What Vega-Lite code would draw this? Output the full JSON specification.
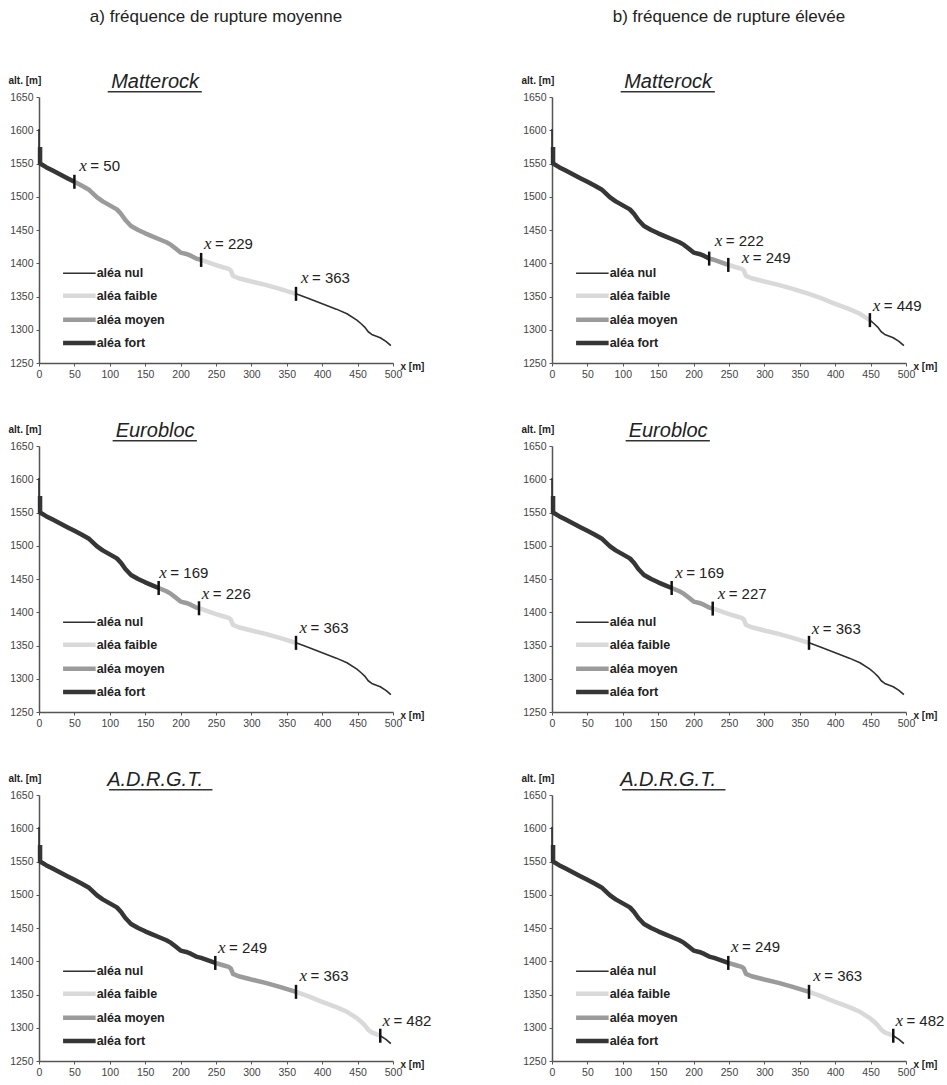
{
"$schema": "https://vega.github.io/schema/vega-lite/v6.json",
"padding": {"left": 8, "top": 8, "right": 2, "bottom": 5},
"background": "white",
"config": {"view": {"stroke": null}, "font": "Liberation Sans",
 "axisX": {"grid": false, "domainColor": "#555", "domainWidth": 1.5, "tickColor": "#555", "tickSize": 3, "format": "d", "labelOverlap": false, "labelFontSize": 10.5, "labelColor": "#444", "labelPadding": 3, "titleFontSize": 10, "titleFontWeight": "bold", "titleColor": "#222", "titleX": 361, "titleY": 3, "titleAlign": "left", "titleBaseline": "middle", "labelFlush": false},
 "axisY": {"grid": false, "domainColor": "#555", "domainWidth": 1.5, "tickColor": "#555", "tickSize": 3, "format": "d", "labelOverlap": false, "labelFontSize": 10.5, "labelColor": "#444", "labelPadding": 3, "titleFontSize": 10, "titleFontWeight": "bold", "titleColor": "#222", "titleAngle": 0, "titleX": -31, "titleY": -17, "titleAlign": "left", "titleBaseline": "middle"},
 "title": {"font": "Liberation Sans", "fontSize": 17, "fontWeight": "normal", "color": "#222", "anchor": "middle", "frame": "group", "offset": 46}
},
"datasets": {"all": [
{"k":"l","f":"a","m":"M","c":"nul0","x":0,"y":1602},{"k":"l","f":"a","m":"M","c":"nul0","x":0,"y":1550},
{"k":"l","f":"a","m":"M","c":"fort","x":1.5,"y":1575},{"k":"l","f":"a","m":"M","c":"fort","x":1.5,"y":1550},{"k":"l","f":"a","m":"M","c":"fort","x":10,"y":1544.5},{"k":"l","f":"a","m":"M","c":"fort","x":20,"y":1539},{"k":"l","f":"a","m":"M","c":"fort","x":30,"y":1533.5},{"k":"l","f":"a","m":"M","c":"fort","x":40,"y":1528},{"k":"l","f":"a","m":"M","c":"fort","x":50,"y":1522.5},
{"k":"l","f":"a","m":"M","c":"moyen","x":50,"y":1522.5},{"k":"l","f":"a","m":"M","c":"moyen","x":60,"y":1517},{"k":"l","f":"a","m":"M","c":"moyen","x":70,"y":1511},{"k":"l","f":"a","m":"M","c":"moyen","x":76,"y":1505},{"k":"l","f":"a","m":"M","c":"moyen","x":82,"y":1499},{"k":"l","f":"a","m":"M","c":"moyen","x":90,"y":1493},{"k":"l","f":"a","m":"M","c":"moyen","x":100,"y":1487},{"k":"l","f":"a","m":"M","c":"moyen","x":110,"y":1481},{"k":"l","f":"a","m":"M","c":"moyen","x":116,"y":1474},{"k":"l","f":"a","m":"M","c":"moyen","x":122,"y":1465},{"k":"l","f":"a","m":"M","c":"moyen","x":130,"y":1456},{"k":"l","f":"a","m":"M","c":"moyen","x":140,"y":1450},{"k":"l","f":"a","m":"M","c":"moyen","x":150,"y":1445},{"k":"l","f":"a","m":"M","c":"moyen","x":160,"y":1440.5},{"k":"l","f":"a","m":"M","c":"moyen","x":169,"y":1436.5},{"k":"l","f":"a","m":"M","c":"moyen","x":180,"y":1431.5},{"k":"l","f":"a","m":"M","c":"moyen","x":186,"y":1428},{"k":"l","f":"a","m":"M","c":"moyen","x":193,"y":1422},{"k":"l","f":"a","m":"M","c":"moyen","x":200,"y":1416},{"k":"l","f":"a","m":"M","c":"moyen","x":208,"y":1414},{"k":"l","f":"a","m":"M","c":"moyen","x":215,"y":1411},{"k":"l","f":"a","m":"M","c":"moyen","x":222,"y":1407},{"k":"l","f":"a","m":"M","c":"moyen","x":226,"y":1406},{"k":"l","f":"a","m":"M","c":"moyen","x":229,"y":1405},
{"k":"l","f":"a","m":"M","c":"faible","x":229,"y":1405},{"k":"l","f":"a","m":"M","c":"faible","x":240,"y":1401},{"k":"l","f":"a","m":"M","c":"faible","x":249,"y":1397.5},{"k":"l","f":"a","m":"M","c":"faible","x":260,"y":1394},{"k":"l","f":"a","m":"M","c":"faible","x":268,"y":1391.5},{"k":"l","f":"a","m":"M","c":"faible","x":271,"y":1389},{"k":"l","f":"a","m":"M","c":"faible","x":274,"y":1381},{"k":"l","f":"a","m":"M","c":"faible","x":282,"y":1377.5},{"k":"l","f":"a","m":"M","c":"faible","x":300,"y":1372.5},{"k":"l","f":"a","m":"M","c":"faible","x":320,"y":1367.5},{"k":"l","f":"a","m":"M","c":"faible","x":340,"y":1361.5},{"k":"l","f":"a","m":"M","c":"faible","x":363,"y":1354},
{"k":"l","f":"a","m":"M","c":"nul","x":363,"y":1354},{"k":"l","f":"a","m":"M","c":"nul","x":380,"y":1347.5},{"k":"l","f":"a","m":"M","c":"nul","x":400,"y":1339},{"k":"l","f":"a","m":"M","c":"nul","x":420,"y":1331},{"k":"l","f":"a","m":"M","c":"nul","x":435,"y":1324},{"k":"l","f":"a","m":"M","c":"nul","x":449,"y":1314.5},{"k":"l","f":"a","m":"M","c":"nul","x":455,"y":1309},{"k":"l","f":"a","m":"M","c":"nul","x":460,"y":1304},{"k":"l","f":"a","m":"M","c":"nul","x":465,"y":1297},{"k":"l","f":"a","m":"M","c":"nul","x":470,"y":1293},{"k":"l","f":"a","m":"M","c":"nul","x":482,"y":1288},{"k":"l","f":"a","m":"M","c":"nul","x":490,"y":1282.5},{"k":"l","f":"a","m":"M","c":"nul","x":497,"y":1276},

{"k":"l","f":"b","m":"M","c":"nul0","x":0,"y":1602},{"k":"l","f":"b","m":"M","c":"nul0","x":0,"y":1550},
{"k":"l","f":"b","m":"M","c":"fort","x":1.5,"y":1575},{"k":"l","f":"b","m":"M","c":"fort","x":1.5,"y":1550},{"k":"l","f":"b","m":"M","c":"fort","x":10,"y":1544.5},{"k":"l","f":"b","m":"M","c":"fort","x":20,"y":1539},{"k":"l","f":"b","m":"M","c":"fort","x":30,"y":1533.5},{"k":"l","f":"b","m":"M","c":"fort","x":40,"y":1528},{"k":"l","f":"b","m":"M","c":"fort","x":50,"y":1522.5},{"k":"l","f":"b","m":"M","c":"fort","x":60,"y":1517},{"k":"l","f":"b","m":"M","c":"fort","x":70,"y":1511},{"k":"l","f":"b","m":"M","c":"fort","x":76,"y":1505},{"k":"l","f":"b","m":"M","c":"fort","x":82,"y":1499},{"k":"l","f":"b","m":"M","c":"fort","x":90,"y":1493},{"k":"l","f":"b","m":"M","c":"fort","x":100,"y":1487},{"k":"l","f":"b","m":"M","c":"fort","x":110,"y":1481},{"k":"l","f":"b","m":"M","c":"fort","x":116,"y":1474},{"k":"l","f":"b","m":"M","c":"fort","x":122,"y":1465},{"k":"l","f":"b","m":"M","c":"fort","x":130,"y":1456},{"k":"l","f":"b","m":"M","c":"fort","x":140,"y":1450},{"k":"l","f":"b","m":"M","c":"fort","x":150,"y":1445},{"k":"l","f":"b","m":"M","c":"fort","x":160,"y":1440.5},{"k":"l","f":"b","m":"M","c":"fort","x":169,"y":1436.5},{"k":"l","f":"b","m":"M","c":"fort","x":180,"y":1431.5},{"k":"l","f":"b","m":"M","c":"fort","x":186,"y":1428},{"k":"l","f":"b","m":"M","c":"fort","x":193,"y":1422},{"k":"l","f":"b","m":"M","c":"fort","x":200,"y":1416},{"k":"l","f":"b","m":"M","c":"fort","x":208,"y":1414},{"k":"l","f":"b","m":"M","c":"fort","x":215,"y":1411},{"k":"l","f":"b","m":"M","c":"fort","x":222,"y":1407},
{"k":"l","f":"b","m":"M","c":"moyen","x":222,"y":1407},{"k":"l","f":"b","m":"M","c":"moyen","x":226,"y":1406},{"k":"l","f":"b","m":"M","c":"moyen","x":229,"y":1405},{"k":"l","f":"b","m":"M","c":"moyen","x":240,"y":1401},{"k":"l","f":"b","m":"M","c":"moyen","x":249,"y":1397.5},
{"k":"l","f":"b","m":"M","c":"faible","x":249,"y":1397.5},{"k":"l","f":"b","m":"M","c":"faible","x":260,"y":1394},{"k":"l","f":"b","m":"M","c":"faible","x":268,"y":1391.5},{"k":"l","f":"b","m":"M","c":"faible","x":271,"y":1389},{"k":"l","f":"b","m":"M","c":"faible","x":274,"y":1381},{"k":"l","f":"b","m":"M","c":"faible","x":282,"y":1377.5},{"k":"l","f":"b","m":"M","c":"faible","x":300,"y":1372.5},{"k":"l","f":"b","m":"M","c":"faible","x":320,"y":1367.5},{"k":"l","f":"b","m":"M","c":"faible","x":340,"y":1361.5},{"k":"l","f":"b","m":"M","c":"faible","x":363,"y":1354},{"k":"l","f":"b","m":"M","c":"faible","x":380,"y":1347.5},{"k":"l","f":"b","m":"M","c":"faible","x":400,"y":1339},{"k":"l","f":"b","m":"M","c":"faible","x":420,"y":1331},{"k":"l","f":"b","m":"M","c":"faible","x":435,"y":1324},{"k":"l","f":"b","m":"M","c":"faible","x":449,"y":1314.5},
{"k":"l","f":"b","m":"M","c":"nul","x":449,"y":1314.5},{"k":"l","f":"b","m":"M","c":"nul","x":455,"y":1309},{"k":"l","f":"b","m":"M","c":"nul","x":460,"y":1304},{"k":"l","f":"b","m":"M","c":"nul","x":465,"y":1297},{"k":"l","f":"b","m":"M","c":"nul","x":470,"y":1293},{"k":"l","f":"b","m":"M","c":"nul","x":482,"y":1288},{"k":"l","f":"b","m":"M","c":"nul","x":490,"y":1282.5},{"k":"l","f":"b","m":"M","c":"nul","x":497,"y":1276},

{"k":"l","f":"a","m":"E","c":"nul0","x":0,"y":1602},{"k":"l","f":"a","m":"E","c":"nul0","x":0,"y":1550},
{"k":"l","f":"a","m":"E","c":"fort","x":1.5,"y":1575},{"k":"l","f":"a","m":"E","c":"fort","x":1.5,"y":1550},{"k":"l","f":"a","m":"E","c":"fort","x":10,"y":1544.5},{"k":"l","f":"a","m":"E","c":"fort","x":20,"y":1539},{"k":"l","f":"a","m":"E","c":"fort","x":30,"y":1533.5},{"k":"l","f":"a","m":"E","c":"fort","x":40,"y":1528},{"k":"l","f":"a","m":"E","c":"fort","x":50,"y":1522.5},{"k":"l","f":"a","m":"E","c":"fort","x":60,"y":1517},{"k":"l","f":"a","m":"E","c":"fort","x":70,"y":1511},{"k":"l","f":"a","m":"E","c":"fort","x":76,"y":1505},{"k":"l","f":"a","m":"E","c":"fort","x":82,"y":1499},{"k":"l","f":"a","m":"E","c":"fort","x":90,"y":1493},{"k":"l","f":"a","m":"E","c":"fort","x":100,"y":1487},{"k":"l","f":"a","m":"E","c":"fort","x":110,"y":1481},{"k":"l","f":"a","m":"E","c":"fort","x":116,"y":1474},{"k":"l","f":"a","m":"E","c":"fort","x":122,"y":1465},{"k":"l","f":"a","m":"E","c":"fort","x":130,"y":1456},{"k":"l","f":"a","m":"E","c":"fort","x":140,"y":1450},{"k":"l","f":"a","m":"E","c":"fort","x":150,"y":1445},{"k":"l","f":"a","m":"E","c":"fort","x":160,"y":1440.5},{"k":"l","f":"a","m":"E","c":"fort","x":169,"y":1436.5},
{"k":"l","f":"a","m":"E","c":"moyen","x":169,"y":1436.5},{"k":"l","f":"a","m":"E","c":"moyen","x":180,"y":1431.5},{"k":"l","f":"a","m":"E","c":"moyen","x":186,"y":1428},{"k":"l","f":"a","m":"E","c":"moyen","x":193,"y":1422},{"k":"l","f":"a","m":"E","c":"moyen","x":200,"y":1416},{"k":"l","f":"a","m":"E","c":"moyen","x":208,"y":1414},{"k":"l","f":"a","m":"E","c":"moyen","x":215,"y":1411},{"k":"l","f":"a","m":"E","c":"moyen","x":222,"y":1407},{"k":"l","f":"a","m":"E","c":"moyen","x":226,"y":1406},
{"k":"l","f":"a","m":"E","c":"faible","x":226,"y":1406},{"k":"l","f":"a","m":"E","c":"faible","x":229,"y":1405},{"k":"l","f":"a","m":"E","c":"faible","x":240,"y":1401},{"k":"l","f":"a","m":"E","c":"faible","x":249,"y":1397.5},{"k":"l","f":"a","m":"E","c":"faible","x":260,"y":1394},{"k":"l","f":"a","m":"E","c":"faible","x":268,"y":1391.5},{"k":"l","f":"a","m":"E","c":"faible","x":271,"y":1389},{"k":"l","f":"a","m":"E","c":"faible","x":274,"y":1381},{"k":"l","f":"a","m":"E","c":"faible","x":282,"y":1377.5},{"k":"l","f":"a","m":"E","c":"faible","x":300,"y":1372.5},{"k":"l","f":"a","m":"E","c":"faible","x":320,"y":1367.5},{"k":"l","f":"a","m":"E","c":"faible","x":340,"y":1361.5},{"k":"l","f":"a","m":"E","c":"faible","x":363,"y":1354},
{"k":"l","f":"a","m":"E","c":"nul","x":363,"y":1354},{"k":"l","f":"a","m":"E","c":"nul","x":380,"y":1347.5},{"k":"l","f":"a","m":"E","c":"nul","x":400,"y":1339},{"k":"l","f":"a","m":"E","c":"nul","x":420,"y":1331},{"k":"l","f":"a","m":"E","c":"nul","x":435,"y":1324},{"k":"l","f":"a","m":"E","c":"nul","x":449,"y":1314.5},{"k":"l","f":"a","m":"E","c":"nul","x":455,"y":1309},{"k":"l","f":"a","m":"E","c":"nul","x":460,"y":1304},{"k":"l","f":"a","m":"E","c":"nul","x":465,"y":1297},{"k":"l","f":"a","m":"E","c":"nul","x":470,"y":1293},{"k":"l","f":"a","m":"E","c":"nul","x":482,"y":1288},{"k":"l","f":"a","m":"E","c":"nul","x":490,"y":1282.5},{"k":"l","f":"a","m":"E","c":"nul","x":497,"y":1276},

{"k":"l","f":"b","m":"E","c":"nul0","x":0,"y":1602},{"k":"l","f":"b","m":"E","c":"nul0","x":0,"y":1550},
{"k":"l","f":"b","m":"E","c":"fort","x":1.5,"y":1575},{"k":"l","f":"b","m":"E","c":"fort","x":1.5,"y":1550},{"k":"l","f":"b","m":"E","c":"fort","x":10,"y":1544.5},{"k":"l","f":"b","m":"E","c":"fort","x":20,"y":1539},{"k":"l","f":"b","m":"E","c":"fort","x":30,"y":1533.5},{"k":"l","f":"b","m":"E","c":"fort","x":40,"y":1528},{"k":"l","f":"b","m":"E","c":"fort","x":50,"y":1522.5},{"k":"l","f":"b","m":"E","c":"fort","x":60,"y":1517},{"k":"l","f":"b","m":"E","c":"fort","x":70,"y":1511},{"k":"l","f":"b","m":"E","c":"fort","x":76,"y":1505},{"k":"l","f":"b","m":"E","c":"fort","x":82,"y":1499},{"k":"l","f":"b","m":"E","c":"fort","x":90,"y":1493},{"k":"l","f":"b","m":"E","c":"fort","x":100,"y":1487},{"k":"l","f":"b","m":"E","c":"fort","x":110,"y":1481},{"k":"l","f":"b","m":"E","c":"fort","x":116,"y":1474},{"k":"l","f":"b","m":"E","c":"fort","x":122,"y":1465},{"k":"l","f":"b","m":"E","c":"fort","x":130,"y":1456},{"k":"l","f":"b","m":"E","c":"fort","x":140,"y":1450},{"k":"l","f":"b","m":"E","c":"fort","x":150,"y":1445},{"k":"l","f":"b","m":"E","c":"fort","x":160,"y":1440.5},{"k":"l","f":"b","m":"E","c":"fort","x":169,"y":1436.5},
{"k":"l","f":"b","m":"E","c":"moyen","x":169,"y":1436.5},{"k":"l","f":"b","m":"E","c":"moyen","x":180,"y":1431.5},{"k":"l","f":"b","m":"E","c":"moyen","x":186,"y":1428},{"k":"l","f":"b","m":"E","c":"moyen","x":193,"y":1422},{"k":"l","f":"b","m":"E","c":"moyen","x":200,"y":1416},{"k":"l","f":"b","m":"E","c":"moyen","x":208,"y":1414},{"k":"l","f":"b","m":"E","c":"moyen","x":215,"y":1411},{"k":"l","f":"b","m":"E","c":"moyen","x":222,"y":1407},{"k":"l","f":"b","m":"E","c":"moyen","x":226,"y":1406},{"k":"l","f":"b","m":"E","c":"moyen","x":227,"y":1405.5},
{"k":"l","f":"b","m":"E","c":"faible","x":227,"y":1405.5},{"k":"l","f":"b","m":"E","c":"faible","x":229,"y":1405},{"k":"l","f":"b","m":"E","c":"faible","x":240,"y":1401},{"k":"l","f":"b","m":"E","c":"faible","x":249,"y":1397.5},{"k":"l","f":"b","m":"E","c":"faible","x":260,"y":1394},{"k":"l","f":"b","m":"E","c":"faible","x":268,"y":1391.5},{"k":"l","f":"b","m":"E","c":"faible","x":271,"y":1389},{"k":"l","f":"b","m":"E","c":"faible","x":274,"y":1381},{"k":"l","f":"b","m":"E","c":"faible","x":282,"y":1377.5},{"k":"l","f":"b","m":"E","c":"faible","x":300,"y":1372.5},{"k":"l","f":"b","m":"E","c":"faible","x":320,"y":1367.5},{"k":"l","f":"b","m":"E","c":"faible","x":340,"y":1361.5},{"k":"l","f":"b","m":"E","c":"faible","x":363,"y":1354},
{"k":"l","f":"b","m":"E","c":"nul","x":363,"y":1354},{"k":"l","f":"b","m":"E","c":"nul","x":380,"y":1347.5},{"k":"l","f":"b","m":"E","c":"nul","x":400,"y":1339},{"k":"l","f":"b","m":"E","c":"nul","x":420,"y":1331},{"k":"l","f":"b","m":"E","c":"nul","x":435,"y":1324},{"k":"l","f":"b","m":"E","c":"nul","x":449,"y":1314.5},{"k":"l","f":"b","m":"E","c":"nul","x":455,"y":1309},{"k":"l","f":"b","m":"E","c":"nul","x":460,"y":1304},{"k":"l","f":"b","m":"E","c":"nul","x":465,"y":1297},{"k":"l","f":"b","m":"E","c":"nul","x":470,"y":1293},{"k":"l","f":"b","m":"E","c":"nul","x":482,"y":1288},{"k":"l","f":"b","m":"E","c":"nul","x":490,"y":1282.5},{"k":"l","f":"b","m":"E","c":"nul","x":497,"y":1276},

{"k":"l","f":"a","m":"A","c":"nul0","x":0,"y":1602},{"k":"l","f":"a","m":"A","c":"nul0","x":0,"y":1550},
{"k":"l","f":"a","m":"A","c":"fort","x":1.5,"y":1575},{"k":"l","f":"a","m":"A","c":"fort","x":1.5,"y":1550},{"k":"l","f":"a","m":"A","c":"fort","x":10,"y":1544.5},{"k":"l","f":"a","m":"A","c":"fort","x":20,"y":1539},{"k":"l","f":"a","m":"A","c":"fort","x":30,"y":1533.5},{"k":"l","f":"a","m":"A","c":"fort","x":40,"y":1528},{"k":"l","f":"a","m":"A","c":"fort","x":50,"y":1522.5},{"k":"l","f":"a","m":"A","c":"fort","x":60,"y":1517},{"k":"l","f":"a","m":"A","c":"fort","x":70,"y":1511},{"k":"l","f":"a","m":"A","c":"fort","x":76,"y":1505},{"k":"l","f":"a","m":"A","c":"fort","x":82,"y":1499},{"k":"l","f":"a","m":"A","c":"fort","x":90,"y":1493},{"k":"l","f":"a","m":"A","c":"fort","x":100,"y":1487},{"k":"l","f":"a","m":"A","c":"fort","x":110,"y":1481},{"k":"l","f":"a","m":"A","c":"fort","x":116,"y":1474},{"k":"l","f":"a","m":"A","c":"fort","x":122,"y":1465},{"k":"l","f":"a","m":"A","c":"fort","x":130,"y":1456},{"k":"l","f":"a","m":"A","c":"fort","x":140,"y":1450},{"k":"l","f":"a","m":"A","c":"fort","x":150,"y":1445},{"k":"l","f":"a","m":"A","c":"fort","x":160,"y":1440.5},{"k":"l","f":"a","m":"A","c":"fort","x":169,"y":1436.5},{"k":"l","f":"a","m":"A","c":"fort","x":180,"y":1431.5},{"k":"l","f":"a","m":"A","c":"fort","x":186,"y":1428},{"k":"l","f":"a","m":"A","c":"fort","x":193,"y":1422},{"k":"l","f":"a","m":"A","c":"fort","x":200,"y":1416},{"k":"l","f":"a","m":"A","c":"fort","x":208,"y":1414},{"k":"l","f":"a","m":"A","c":"fort","x":215,"y":1411},{"k":"l","f":"a","m":"A","c":"fort","x":222,"y":1407},{"k":"l","f":"a","m":"A","c":"fort","x":229,"y":1405},{"k":"l","f":"a","m":"A","c":"fort","x":240,"y":1401},{"k":"l","f":"a","m":"A","c":"fort","x":249,"y":1397.5},
{"k":"l","f":"a","m":"A","c":"moyen","x":249,"y":1397.5},{"k":"l","f":"a","m":"A","c":"moyen","x":260,"y":1394},{"k":"l","f":"a","m":"A","c":"moyen","x":268,"y":1391.5},{"k":"l","f":"a","m":"A","c":"moyen","x":271,"y":1389},{"k":"l","f":"a","m":"A","c":"moyen","x":274,"y":1381},{"k":"l","f":"a","m":"A","c":"moyen","x":282,"y":1377.5},{"k":"l","f":"a","m":"A","c":"moyen","x":300,"y":1372.5},{"k":"l","f":"a","m":"A","c":"moyen","x":320,"y":1367.5},{"k":"l","f":"a","m":"A","c":"moyen","x":340,"y":1361.5},{"k":"l","f":"a","m":"A","c":"moyen","x":363,"y":1354},
{"k":"l","f":"a","m":"A","c":"faible","x":363,"y":1354},{"k":"l","f":"a","m":"A","c":"faible","x":380,"y":1347.5},{"k":"l","f":"a","m":"A","c":"faible","x":400,"y":1339},{"k":"l","f":"a","m":"A","c":"faible","x":420,"y":1331},{"k":"l","f":"a","m":"A","c":"faible","x":435,"y":1324},{"k":"l","f":"a","m":"A","c":"faible","x":449,"y":1314.5},{"k":"l","f":"a","m":"A","c":"faible","x":455,"y":1309},{"k":"l","f":"a","m":"A","c":"faible","x":460,"y":1304},{"k":"l","f":"a","m":"A","c":"faible","x":465,"y":1297},{"k":"l","f":"a","m":"A","c":"faible","x":470,"y":1293},{"k":"l","f":"a","m":"A","c":"faible","x":482,"y":1288},
{"k":"l","f":"a","m":"A","c":"nul","x":482,"y":1288},{"k":"l","f":"a","m":"A","c":"nul","x":490,"y":1282.5},{"k":"l","f":"a","m":"A","c":"nul","x":497,"y":1276},

{"k":"l","f":"b","m":"A","c":"nul0","x":0,"y":1602},{"k":"l","f":"b","m":"A","c":"nul0","x":0,"y":1550},
{"k":"l","f":"b","m":"A","c":"fort","x":1.5,"y":1575},{"k":"l","f":"b","m":"A","c":"fort","x":1.5,"y":1550},{"k":"l","f":"b","m":"A","c":"fort","x":10,"y":1544.5},{"k":"l","f":"b","m":"A","c":"fort","x":20,"y":1539},{"k":"l","f":"b","m":"A","c":"fort","x":30,"y":1533.5},{"k":"l","f":"b","m":"A","c":"fort","x":40,"y":1528},{"k":"l","f":"b","m":"A","c":"fort","x":50,"y":1522.5},{"k":"l","f":"b","m":"A","c":"fort","x":60,"y":1517},{"k":"l","f":"b","m":"A","c":"fort","x":70,"y":1511},{"k":"l","f":"b","m":"A","c":"fort","x":76,"y":1505},{"k":"l","f":"b","m":"A","c":"fort","x":82,"y":1499},{"k":"l","f":"b","m":"A","c":"fort","x":90,"y":1493},{"k":"l","f":"b","m":"A","c":"fort","x":100,"y":1487},{"k":"l","f":"b","m":"A","c":"fort","x":110,"y":1481},{"k":"l","f":"b","m":"A","c":"fort","x":116,"y":1474},{"k":"l","f":"b","m":"A","c":"fort","x":122,"y":1465},{"k":"l","f":"b","m":"A","c":"fort","x":130,"y":1456},{"k":"l","f":"b","m":"A","c":"fort","x":140,"y":1450},{"k":"l","f":"b","m":"A","c":"fort","x":150,"y":1445},{"k":"l","f":"b","m":"A","c":"fort","x":160,"y":1440.5},{"k":"l","f":"b","m":"A","c":"fort","x":169,"y":1436.5},{"k":"l","f":"b","m":"A","c":"fort","x":180,"y":1431.5},{"k":"l","f":"b","m":"A","c":"fort","x":186,"y":1428},{"k":"l","f":"b","m":"A","c":"fort","x":193,"y":1422},{"k":"l","f":"b","m":"A","c":"fort","x":200,"y":1416},{"k":"l","f":"b","m":"A","c":"fort","x":208,"y":1414},{"k":"l","f":"b","m":"A","c":"fort","x":215,"y":1411},{"k":"l","f":"b","m":"A","c":"fort","x":222,"y":1407},{"k":"l","f":"b","m":"A","c":"fort","x":229,"y":1405},{"k":"l","f":"b","m":"A","c":"fort","x":240,"y":1401},{"k":"l","f":"b","m":"A","c":"fort","x":249,"y":1397.5},
{"k":"l","f":"b","m":"A","c":"moyen","x":249,"y":1397.5},{"k":"l","f":"b","m":"A","c":"moyen","x":260,"y":1394},{"k":"l","f":"b","m":"A","c":"moyen","x":268,"y":1391.5},{"k":"l","f":"b","m":"A","c":"moyen","x":271,"y":1389},{"k":"l","f":"b","m":"A","c":"moyen","x":274,"y":1381},{"k":"l","f":"b","m":"A","c":"moyen","x":282,"y":1377.5},{"k":"l","f":"b","m":"A","c":"moyen","x":300,"y":1372.5},{"k":"l","f":"b","m":"A","c":"moyen","x":320,"y":1367.5},{"k":"l","f":"b","m":"A","c":"moyen","x":340,"y":1361.5},{"k":"l","f":"b","m":"A","c":"moyen","x":363,"y":1354},
{"k":"l","f":"b","m":"A","c":"faible","x":363,"y":1354},{"k":"l","f":"b","m":"A","c":"faible","x":380,"y":1347.5},{"k":"l","f":"b","m":"A","c":"faible","x":400,"y":1339},{"k":"l","f":"b","m":"A","c":"faible","x":420,"y":1331},{"k":"l","f":"b","m":"A","c":"faible","x":435,"y":1324},{"k":"l","f":"b","m":"A","c":"faible","x":449,"y":1314.5},{"k":"l","f":"b","m":"A","c":"faible","x":455,"y":1309},{"k":"l","f":"b","m":"A","c":"faible","x":460,"y":1304},{"k":"l","f":"b","m":"A","c":"faible","x":465,"y":1297},{"k":"l","f":"b","m":"A","c":"faible","x":470,"y":1293},{"k":"l","f":"b","m":"A","c":"faible","x":482,"y":1288},
{"k":"l","f":"b","m":"A","c":"nul","x":482,"y":1288},{"k":"l","f":"b","m":"A","c":"nul","x":490,"y":1282.5},{"k":"l","f":"b","m":"A","c":"nul","x":497,"y":1276},

{"k":"t","f":"a","m":"M","x":50,"y":1522.5,"lx":57,"ly":1538,"t":"= 50"},
{"k":"t","f":"a","m":"M","x":229,"y":1405,"lx":233,"ly":1422,"t":"= 229"},
{"k":"t","f":"a","m":"M","x":363,"y":1354,"lx":370,"ly":1370,"t":"= 363"},
{"k":"t","f":"b","m":"M","x":222,"y":1407,"lx":230,"ly":1426,"t":"= 222"},
{"k":"t","f":"b","m":"M","x":249,"y":1397.5,"lx":268,"ly":1401,"t":"= 249"},
{"k":"t","f":"b","m":"M","x":449,"y":1314.5,"lx":453,"ly":1328,"t":"= 449"},
{"k":"t","f":"a","m":"E","x":169,"y":1436.5,"lx":170,"ly":1451,"t":"= 169"},
{"k":"t","f":"a","m":"E","x":226,"y":1406,"lx":230,"ly":1420,"t":"= 226"},
{"k":"t","f":"a","m":"E","x":363,"y":1354,"lx":368,"ly":1369,"t":"= 363"},
{"k":"t","f":"b","m":"E","x":169,"y":1436.5,"lx":174,"ly":1451,"t":"= 169"},
{"k":"t","f":"b","m":"E","x":227,"y":1405.5,"lx":234,"ly":1420,"t":"= 227"},
{"k":"t","f":"b","m":"E","x":363,"y":1354,"lx":367,"ly":1368,"t":"= 363"},
{"k":"t","f":"a","m":"A","x":249,"y":1397.5,"lx":253,"ly":1413,"t":"= 249"},
{"k":"t","f":"a","m":"A","x":363,"y":1354,"lx":368,"ly":1370,"t":"= 363"},
{"k":"t","f":"a","m":"A","x":482,"y":1288,"lx":485,"ly":1303,"t":"= 482"},
{"k":"t","f":"b","m":"A","x":249,"y":1397.5,"lx":253,"ly":1414,"t":"= 249"},
{"k":"t","f":"b","m":"A","x":363,"y":1354,"lx":369,"ly":1371,"t":"= 363"},
{"k":"t","f":"b","m":"A","x":482,"y":1288,"lx":485,"ly":1303,"t":"= 482"},

{"k":"g","f":"a","m":"M","c":"nul","y":1385,"t":"aléa nul"},{"k":"g","f":"a","m":"M","c":"faible","y":1351,"t":"aléa faible"},{"k":"g","f":"a","m":"M","c":"moyen","y":1315,"t":"aléa moyen"},{"k":"g","f":"a","m":"M","c":"fort","y":1280,"t":"aléa fort"},
{"k":"g","f":"b","m":"M","c":"nul","y":1385,"t":"aléa nul"},{"k":"g","f":"b","m":"M","c":"faible","y":1351,"t":"aléa faible"},{"k":"g","f":"b","m":"M","c":"moyen","y":1315,"t":"aléa moyen"},{"k":"g","f":"b","m":"M","c":"fort","y":1280,"t":"aléa fort"},
{"k":"g","f":"a","m":"E","c":"nul","y":1385,"t":"aléa nul"},{"k":"g","f":"a","m":"E","c":"faible","y":1351,"t":"aléa faible"},{"k":"g","f":"a","m":"E","c":"moyen","y":1315,"t":"aléa moyen"},{"k":"g","f":"a","m":"E","c":"fort","y":1280,"t":"aléa fort"},
{"k":"g","f":"b","m":"E","c":"nul","y":1385,"t":"aléa nul"},{"k":"g","f":"b","m":"E","c":"faible","y":1351,"t":"aléa faible"},{"k":"g","f":"b","m":"E","c":"moyen","y":1315,"t":"aléa moyen"},{"k":"g","f":"b","m":"E","c":"fort","y":1280,"t":"aléa fort"},
{"k":"g","f":"a","m":"A","c":"nul","y":1385,"t":"aléa nul"},{"k":"g","f":"a","m":"A","c":"faible","y":1351,"t":"aléa faible"},{"k":"g","f":"a","m":"A","c":"moyen","y":1315,"t":"aléa moyen"},{"k":"g","f":"a","m":"A","c":"fort","y":1280,"t":"aléa fort"},
{"k":"g","f":"b","m":"A","c":"nul","y":1385,"t":"aléa nul"},{"k":"g","f":"b","m":"A","c":"faible","y":1351,"t":"aléa faible"},{"k":"g","f":"b","m":"A","c":"moyen","y":1315,"t":"aléa moyen"},{"k":"g","f":"b","m":"A","c":"fort","y":1280,"t":"aléa fort"},

{"k":"h","f":"a","m":"M","t":"Matterock","u1":97,"u2":230},
{"k":"h","f":"b","m":"M","t":"Matterock","u1":97,"u2":230},
{"k":"h","f":"a","m":"E","t":"Eurobloc","u1":104,"u2":223},
{"k":"h","f":"b","m":"E","t":"Eurobloc","u1":104,"u2":223},
{"k":"h","f":"a","m":"A","t":"A.D.R.G.T.","u1":99,"u2":245},
{"k":"h","f":"b","m":"A","t":"A.D.R.G.T.","u1":99,"u2":245}
]},
"columns": 2,
"align": "each",
"spacing": {"row": 41, "column": 89},
"concat": [
 {"width": 354, "height": 266, "title": "a) fréquence de rupture moyenne", "data": {"name": "all"}, "transform": [{"filter": "datum.f == 'a' && datum.m == 'M'"}],
  "layer": [
   {"transform": [{"filter": "datum.k == 'l' && datum.c != 'nul' && datum.c != 'nul0'"}], "mark": {"type": "line", "strokeWidth": 4.5, "strokeCap": "butt", "strokeJoin": "round"}, "encoding": {"x": {"field": "x", "type": "quantitative", "title": "x [m]", "scale": {"domain": [0, 500], "nice": false}, "axis": {"values": [0,50,100,150,200,250,300,350,400,450,500], "tickCount": 20}}, "y": {"field": "y", "type": "quantitative", "title": "alt. [m]", "scale": {"domain": [1250, 1650], "nice": false}, "axis": {"values": [1250,1300,1350,1400,1450,1500,1550,1600,1650], "tickCount": 20}}, "color": {"field": "c", "type": "nominal", "legend": null, "scale": {"domain": ["faible","moyen","fort"], "range": ["#d9d9d9","#9b9b9b","#363636"]}}, "order": {"value": null}}},
   {"transform": [{"filter": "datum.k == 'l' && (datum.c == 'nul' || datum.c == 'nul0')"}], "mark": {"type": "line", "strokeWidth": 1.6, "color": "#2f2f2f", "strokeJoin": "round"}, "encoding": {"x": {"field": "x", "type": "quantitative", "title": "x [m]"}, "y": {"field": "y", "type": "quantitative", "title": "alt. [m]"}, "detail": {"field": "c"}, "order": {"value": null}}},
   {"transform": [{"filter": "datum.k == 't'"}], "mark": {"type": "tick", "orient": "vertical", "size": 14, "thickness": 2.5, "color": "#111", "opacity": 1}, "encoding": {"x": {"field": "x", "type": "quantitative", "title": "x [m]"}, "y": {"field": "y", "type": "quantitative", "title": "alt. [m]"}}},
   {"transform": [{"filter": "datum.k == 't'"}], "mark": {"type": "text", "text": "x", "font": "Liberation Serif", "fontStyle": "italic", "fontSize": 17, "align": "left", "baseline": "alphabetic", "color": "#222"}, "encoding": {"x": {"field": "lx", "type": "quantitative", "title": "x [m]"}, "y": {"field": "ly", "type": "quantitative", "title": "alt. [m]"}}},
   {"transform": [{"filter": "datum.k == 't'"}], "mark": {"type": "text", "font": "Liberation Sans", "fontSize": 15, "align": "left", "baseline": "alphabetic", "dx": 11, "color": "#222"}, "encoding": {"x": {"field": "lx", "type": "quantitative", "title": "x [m]"}, "y": {"field": "ly", "type": "quantitative", "title": "alt. [m]"}, "text": {"field": "t"}}},
   {"transform": [{"filter": "datum.k == 'g' && datum.c != 'nul'"}], "mark": {"type": "rule", "strokeWidth": 4.5, "strokeCap": "butt"}, "encoding": {"x": {"datum": 34}, "x2": {"datum": 80}, "y": {"field": "y", "type": "quantitative", "title": "alt. [m]"}, "color": {"field": "c", "type": "nominal", "legend": null}}},
   {"transform": [{"filter": "datum.k == 'g' && datum.c == 'nul'"}], "mark": {"type": "rule", "strokeWidth": 1.6, "color": "#2f2f2f"}, "encoding": {"x": {"datum": 34}, "x2": {"datum": 80}, "y": {"field": "y", "type": "quantitative", "title": "alt. [m]"}}},
   {"transform": [{"filter": "datum.k == 'g'"}], "mark": {"type": "text", "font": "Liberation Sans", "fontWeight": "bold", "fontSize": 12.5, "align": "left", "baseline": "middle", "dx": 1, "color": "#222"}, "encoding": {"x": {"datum": 80}, "y": {"field": "y", "type": "quantitative", "title": "alt. [m]"}, "text": {"field": "t"}}},
   {"transform": [{"filter": "datum.k == 'h'"}], "mark": {"type": "text", "font": "Liberation Sans", "fontStyle": "italic", "fontSize": 20, "align": "center", "baseline": "alphabetic", "color": "#222"}, "encoding": {"x": {"datum": 164}, "y": {"datum": 1663}, "text": {"field": "t"}}},
   {"transform": [{"filter": "datum.k == 'h'"}], "mark": {"type": "rule", "color": "#333", "strokeWidth": 1.5}, "encoding": {"x": {"field": "u1", "type": "quantitative", "title": "x [m]"}, "x2": {"field": "u2"}, "y": {"datum": 1658}}}
  ]},
 {"width": 354, "height": 266, "title": "b) fréquence de rupture élevée", "data": {"name": "all"}, "transform": [{"filter": "datum.f == 'b' && datum.m == 'M'"}],
  "layer": [
   {"transform": [{"filter": "datum.k == 'l' && datum.c != 'nul' && datum.c != 'nul0'"}], "mark": {"type": "line", "strokeWidth": 4.5, "strokeCap": "butt", "strokeJoin": "round"}, "encoding": {"x": {"field": "x", "type": "quantitative", "title": "x [m]", "scale": {"domain": [0, 500], "nice": false}, "axis": {"values": [0,50,100,150,200,250,300,350,400,450,500], "tickCount": 20}}, "y": {"field": "y", "type": "quantitative", "title": "alt. [m]", "scale": {"domain": [1250, 1650], "nice": false}, "axis": {"values": [1250,1300,1350,1400,1450,1500,1550,1600,1650], "tickCount": 20}}, "color": {"field": "c", "type": "nominal", "legend": null, "scale": {"domain": ["faible","moyen","fort"], "range": ["#d9d9d9","#9b9b9b","#363636"]}}, "order": {"value": null}}},
   {"transform": [{"filter": "datum.k == 'l' && (datum.c == 'nul' || datum.c == 'nul0')"}], "mark": {"type": "line", "strokeWidth": 1.6, "color": "#2f2f2f", "strokeJoin": "round"}, "encoding": {"x": {"field": "x", "type": "quantitative", "title": "x [m]"}, "y": {"field": "y", "type": "quantitative", "title": "alt. [m]"}, "detail": {"field": "c"}, "order": {"value": null}}},
   {"transform": [{"filter": "datum.k == 't'"}], "mark": {"type": "tick", "orient": "vertical", "size": 14, "thickness": 2.5, "color": "#111", "opacity": 1}, "encoding": {"x": {"field": "x", "type": "quantitative", "title": "x [m]"}, "y": {"field": "y", "type": "quantitative", "title": "alt. [m]"}}},
   {"transform": [{"filter": "datum.k == 't'"}], "mark": {"type": "text", "text": "x", "font": "Liberation Serif", "fontStyle": "italic", "fontSize": 17, "align": "left", "baseline": "alphabetic", "color": "#222"}, "encoding": {"x": {"field": "lx", "type": "quantitative", "title": "x [m]"}, "y": {"field": "ly", "type": "quantitative", "title": "alt. [m]"}}},
   {"transform": [{"filter": "datum.k == 't'"}], "mark": {"type": "text", "font": "Liberation Sans", "fontSize": 15, "align": "left", "baseline": "alphabetic", "dx": 11, "color": "#222"}, "encoding": {"x": {"field": "lx", "type": "quantitative", "title": "x [m]"}, "y": {"field": "ly", "type": "quantitative", "title": "alt. [m]"}, "text": {"field": "t"}}},
   {"transform": [{"filter": "datum.k == 'g' && datum.c != 'nul'"}], "mark": {"type": "rule", "strokeWidth": 4.5, "strokeCap": "butt"}, "encoding": {"x": {"datum": 34}, "x2": {"datum": 80}, "y": {"field": "y", "type": "quantitative", "title": "alt. [m]"}, "color": {"field": "c", "type": "nominal", "legend": null}}},
   {"transform": [{"filter": "datum.k == 'g' && datum.c == 'nul'"}], "mark": {"type": "rule", "strokeWidth": 1.6, "color": "#2f2f2f"}, "encoding": {"x": {"datum": 34}, "x2": {"datum": 80}, "y": {"field": "y", "type": "quantitative", "title": "alt. [m]"}}},
   {"transform": [{"filter": "datum.k == 'g'"}], "mark": {"type": "text", "font": "Liberation Sans", "fontWeight": "bold", "fontSize": 12.5, "align": "left", "baseline": "middle", "dx": 1, "color": "#222"}, "encoding": {"x": {"datum": 80}, "y": {"field": "y", "type": "quantitative", "title": "alt. [m]"}, "text": {"field": "t"}}},
   {"transform": [{"filter": "datum.k == 'h'"}], "mark": {"type": "text", "font": "Liberation Sans", "fontStyle": "italic", "fontSize": 20, "align": "center", "baseline": "alphabetic", "color": "#222"}, "encoding": {"x": {"datum": 164}, "y": {"datum": 1663}, "text": {"field": "t"}}},
   {"transform": [{"filter": "datum.k == 'h'"}], "mark": {"type": "rule", "color": "#333", "strokeWidth": 1.5}, "encoding": {"x": {"field": "u1", "type": "quantitative", "title": "x [m]"}, "x2": {"field": "u2"}, "y": {"datum": 1658}}}
  ]},
 {"width": 354, "height": 266, "data": {"name": "all"}, "transform": [{"filter": "datum.f == 'a' && datum.m == 'E'"}],
  "layer": [
   {"transform": [{"filter": "datum.k == 'l' && datum.c != 'nul' && datum.c != 'nul0'"}], "mark": {"type": "line", "strokeWidth": 4.5, "strokeCap": "butt", "strokeJoin": "round"}, "encoding": {"x": {"field": "x", "type": "quantitative", "title": "x [m]", "scale": {"domain": [0, 500], "nice": false}, "axis": {"values": [0,50,100,150,200,250,300,350,400,450,500], "tickCount": 20}}, "y": {"field": "y", "type": "quantitative", "title": "alt. [m]", "scale": {"domain": [1250, 1650], "nice": false}, "axis": {"values": [1250,1300,1350,1400,1450,1500,1550,1600,1650], "tickCount": 20}}, "color": {"field": "c", "type": "nominal", "legend": null, "scale": {"domain": ["faible","moyen","fort"], "range": ["#d9d9d9","#9b9b9b","#363636"]}}, "order": {"value": null}}},
   {"transform": [{"filter": "datum.k == 'l' && (datum.c == 'nul' || datum.c == 'nul0')"}], "mark": {"type": "line", "strokeWidth": 1.6, "color": "#2f2f2f", "strokeJoin": "round"}, "encoding": {"x": {"field": "x", "type": "quantitative", "title": "x [m]"}, "y": {"field": "y", "type": "quantitative", "title": "alt. [m]"}, "detail": {"field": "c"}, "order": {"value": null}}},
   {"transform": [{"filter": "datum.k == 't'"}], "mark": {"type": "tick", "orient": "vertical", "size": 14, "thickness": 2.5, "color": "#111", "opacity": 1}, "encoding": {"x": {"field": "x", "type": "quantitative", "title": "x [m]"}, "y": {"field": "y", "type": "quantitative", "title": "alt. [m]"}}},
   {"transform": [{"filter": "datum.k == 't'"}], "mark": {"type": "text", "text": "x", "font": "Liberation Serif", "fontStyle": "italic", "fontSize": 17, "align": "left", "baseline": "alphabetic", "color": "#222"}, "encoding": {"x": {"field": "lx", "type": "quantitative", "title": "x [m]"}, "y": {"field": "ly", "type": "quantitative", "title": "alt. [m]"}}},
   {"transform": [{"filter": "datum.k == 't'"}], "mark": {"type": "text", "font": "Liberation Sans", "fontSize": 15, "align": "left", "baseline": "alphabetic", "dx": 11, "color": "#222"}, "encoding": {"x": {"field": "lx", "type": "quantitative", "title": "x [m]"}, "y": {"field": "ly", "type": "quantitative", "title": "alt. [m]"}, "text": {"field": "t"}}},
   {"transform": [{"filter": "datum.k == 'g' && datum.c != 'nul'"}], "mark": {"type": "rule", "strokeWidth": 4.5, "strokeCap": "butt"}, "encoding": {"x": {"datum": 34}, "x2": {"datum": 80}, "y": {"field": "y", "type": "quantitative", "title": "alt. [m]"}, "color": {"field": "c", "type": "nominal", "legend": null}}},
   {"transform": [{"filter": "datum.k == 'g' && datum.c == 'nul'"}], "mark": {"type": "rule", "strokeWidth": 1.6, "color": "#2f2f2f"}, "encoding": {"x": {"datum": 34}, "x2": {"datum": 80}, "y": {"field": "y", "type": "quantitative", "title": "alt. [m]"}}},
   {"transform": [{"filter": "datum.k == 'g'"}], "mark": {"type": "text", "font": "Liberation Sans", "fontWeight": "bold", "fontSize": 12.5, "align": "left", "baseline": "middle", "dx": 1, "color": "#222"}, "encoding": {"x": {"datum": 80}, "y": {"field": "y", "type": "quantitative", "title": "alt. [m]"}, "text": {"field": "t"}}},
   {"transform": [{"filter": "datum.k == 'h'"}], "mark": {"type": "text", "font": "Liberation Sans", "fontStyle": "italic", "fontSize": 20, "align": "center", "baseline": "alphabetic", "color": "#222"}, "encoding": {"x": {"datum": 164}, "y": {"datum": 1663}, "text": {"field": "t"}}},
   {"transform": [{"filter": "datum.k == 'h'"}], "mark": {"type": "rule", "color": "#333", "strokeWidth": 1.5}, "encoding": {"x": {"field": "u1", "type": "quantitative", "title": "x [m]"}, "x2": {"field": "u2"}, "y": {"datum": 1658}}}
  ]},
 {"width": 354, "height": 266, "data": {"name": "all"}, "transform": [{"filter": "datum.f == 'b' && datum.m == 'E'"}],
  "layer": [
   {"transform": [{"filter": "datum.k == 'l' && datum.c != 'nul' && datum.c != 'nul0'"}], "mark": {"type": "line", "strokeWidth": 4.5, "strokeCap": "butt", "strokeJoin": "round"}, "encoding": {"x": {"field": "x", "type": "quantitative", "title": "x [m]", "scale": {"domain": [0, 500], "nice": false}, "axis": {"values": [0,50,100,150,200,250,300,350,400,450,500], "tickCount": 20}}, "y": {"field": "y", "type": "quantitative", "title": "alt. [m]", "scale": {"domain": [1250, 1650], "nice": false}, "axis": {"values": [1250,1300,1350,1400,1450,1500,1550,1600,1650], "tickCount": 20}}, "color": {"field": "c", "type": "nominal", "legend": null, "scale": {"domain": ["faible","moyen","fort"], "range": ["#d9d9d9","#9b9b9b","#363636"]}}, "order": {"value": null}}},
   {"transform": [{"filter": "datum.k == 'l' && (datum.c == 'nul' || datum.c == 'nul0')"}], "mark": {"type": "line", "strokeWidth": 1.6, "color": "#2f2f2f", "strokeJoin": "round"}, "encoding": {"x": {"field": "x", "type": "quantitative", "title": "x [m]"}, "y": {"field": "y", "type": "quantitative", "title": "alt. [m]"}, "detail": {"field": "c"}, "order": {"value": null}}},
   {"transform": [{"filter": "datum.k == 't'"}], "mark": {"type": "tick", "orient": "vertical", "size": 14, "thickness": 2.5, "color": "#111", "opacity": 1}, "encoding": {"x": {"field": "x", "type": "quantitative", "title": "x [m]"}, "y": {"field": "y", "type": "quantitative", "title": "alt. [m]"}}},
   {"transform": [{"filter": "datum.k == 't'"}], "mark": {"type": "text", "text": "x", "font": "Liberation Serif", "fontStyle": "italic", "fontSize": 17, "align": "left", "baseline": "alphabetic", "color": "#222"}, "encoding": {"x": {"field": "lx", "type": "quantitative", "title": "x [m]"}, "y": {"field": "ly", "type": "quantitative", "title": "alt. [m]"}}},
   {"transform": [{"filter": "datum.k == 't'"}], "mark": {"type": "text", "font": "Liberation Sans", "fontSize": 15, "align": "left", "baseline": "alphabetic", "dx": 11, "color": "#222"}, "encoding": {"x": {"field": "lx", "type": "quantitative", "title": "x [m]"}, "y": {"field": "ly", "type": "quantitative", "title": "alt. [m]"}, "text": {"field": "t"}}},
   {"transform": [{"filter": "datum.k == 'g' && datum.c != 'nul'"}], "mark": {"type": "rule", "strokeWidth": 4.5, "strokeCap": "butt"}, "encoding": {"x": {"datum": 34}, "x2": {"datum": 80}, "y": {"field": "y", "type": "quantitative", "title": "alt. [m]"}, "color": {"field": "c", "type": "nominal", "legend": null}}},
   {"transform": [{"filter": "datum.k == 'g' && datum.c == 'nul'"}], "mark": {"type": "rule", "strokeWidth": 1.6, "color": "#2f2f2f"}, "encoding": {"x": {"datum": 34}, "x2": {"datum": 80}, "y": {"field": "y", "type": "quantitative", "title": "alt. [m]"}}},
   {"transform": [{"filter": "datum.k == 'g'"}], "mark": {"type": "text", "font": "Liberation Sans", "fontWeight": "bold", "fontSize": 12.5, "align": "left", "baseline": "middle", "dx": 1, "color": "#222"}, "encoding": {"x": {"datum": 80}, "y": {"field": "y", "type": "quantitative", "title": "alt. [m]"}, "text": {"field": "t"}}},
   {"transform": [{"filter": "datum.k == 'h'"}], "mark": {"type": "text", "font": "Liberation Sans", "fontStyle": "italic", "fontSize": 20, "align": "center", "baseline": "alphabetic", "color": "#222"}, "encoding": {"x": {"datum": 164}, "y": {"datum": 1663}, "text": {"field": "t"}}},
   {"transform": [{"filter": "datum.k == 'h'"}], "mark": {"type": "rule", "color": "#333", "strokeWidth": 1.5}, "encoding": {"x": {"field": "u1", "type": "quantitative", "title": "x [m]"}, "x2": {"field": "u2"}, "y": {"datum": 1658}}}
  ]},
 {"width": 354, "height": 266, "data": {"name": "all"}, "transform": [{"filter": "datum.f == 'a' && datum.m == 'A'"}],
  "layer": [
   {"transform": [{"filter": "datum.k == 'l' && datum.c != 'nul' && datum.c != 'nul0'"}], "mark": {"type": "line", "strokeWidth": 4.5, "strokeCap": "butt", "strokeJoin": "round"}, "encoding": {"x": {"field": "x", "type": "quantitative", "title": "x [m]", "scale": {"domain": [0, 500], "nice": false}, "axis": {"values": [0,50,100,150,200,250,300,350,400,450,500], "tickCount": 20}}, "y": {"field": "y", "type": "quantitative", "title": "alt. [m]", "scale": {"domain": [1250, 1650], "nice": false}, "axis": {"values": [1250,1300,1350,1400,1450,1500,1550,1600,1650], "tickCount": 20}}, "color": {"field": "c", "type": "nominal", "legend": null, "scale": {"domain": ["faible","moyen","fort"], "range": ["#d9d9d9","#9b9b9b","#363636"]}}, "order": {"value": null}}},
   {"transform": [{"filter": "datum.k == 'l' && (datum.c == 'nul' || datum.c == 'nul0')"}], "mark": {"type": "line", "strokeWidth": 1.6, "color": "#2f2f2f", "strokeJoin": "round"}, "encoding": {"x": {"field": "x", "type": "quantitative", "title": "x [m]"}, "y": {"field": "y", "type": "quantitative", "title": "alt. [m]"}, "detail": {"field": "c"}, "order": {"value": null}}},
   {"transform": [{"filter": "datum.k == 't'"}], "mark": {"type": "tick", "orient": "vertical", "size": 14, "thickness": 2.5, "color": "#111", "opacity": 1}, "encoding": {"x": {"field": "x", "type": "quantitative", "title": "x [m]"}, "y": {"field": "y", "type": "quantitative", "title": "alt. [m]"}}},
   {"transform": [{"filter": "datum.k == 't'"}], "mark": {"type": "text", "text": "x", "font": "Liberation Serif", "fontStyle": "italic", "fontSize": 17, "align": "left", "baseline": "alphabetic", "color": "#222"}, "encoding": {"x": {"field": "lx", "type": "quantitative", "title": "x [m]"}, "y": {"field": "ly", "type": "quantitative", "title": "alt. [m]"}}},
   {"transform": [{"filter": "datum.k == 't'"}], "mark": {"type": "text", "font": "Liberation Sans", "fontSize": 15, "align": "left", "baseline": "alphabetic", "dx": 11, "color": "#222"}, "encoding": {"x": {"field": "lx", "type": "quantitative", "title": "x [m]"}, "y": {"field": "ly", "type": "quantitative", "title": "alt. [m]"}, "text": {"field": "t"}}},
   {"transform": [{"filter": "datum.k == 'g' && datum.c != 'nul'"}], "mark": {"type": "rule", "strokeWidth": 4.5, "strokeCap": "butt"}, "encoding": {"x": {"datum": 34}, "x2": {"datum": 80}, "y": {"field": "y", "type": "quantitative", "title": "alt. [m]"}, "color": {"field": "c", "type": "nominal", "legend": null}}},
   {"transform": [{"filter": "datum.k == 'g' && datum.c == 'nul'"}], "mark": {"type": "rule", "strokeWidth": 1.6, "color": "#2f2f2f"}, "encoding": {"x": {"datum": 34}, "x2": {"datum": 80}, "y": {"field": "y", "type": "quantitative", "title": "alt. [m]"}}},
   {"transform": [{"filter": "datum.k == 'g'"}], "mark": {"type": "text", "font": "Liberation Sans", "fontWeight": "bold", "fontSize": 12.5, "align": "left", "baseline": "middle", "dx": 1, "color": "#222"}, "encoding": {"x": {"datum": 80}, "y": {"field": "y", "type": "quantitative", "title": "alt. [m]"}, "text": {"field": "t"}}},
   {"transform": [{"filter": "datum.k == 'h'"}], "mark": {"type": "text", "font": "Liberation Sans", "fontStyle": "italic", "fontSize": 20, "align": "center", "baseline": "alphabetic", "color": "#222"}, "encoding": {"x": {"datum": 164}, "y": {"datum": 1663}, "text": {"field": "t"}}},
   {"transform": [{"filter": "datum.k == 'h'"}], "mark": {"type": "rule", "color": "#333", "strokeWidth": 1.5}, "encoding": {"x": {"field": "u1", "type": "quantitative", "title": "x [m]"}, "x2": {"field": "u2"}, "y": {"datum": 1658}}}
  ]},
 {"width": 354, "height": 266, "data": {"name": "all"}, "transform": [{"filter": "datum.f == 'b' && datum.m == 'A'"}],
  "layer": [
   {"transform": [{"filter": "datum.k == 'l' && datum.c != 'nul' && datum.c != 'nul0'"}], "mark": {"type": "line", "strokeWidth": 4.5, "strokeCap": "butt", "strokeJoin": "round"}, "encoding": {"x": {"field": "x", "type": "quantitative", "title": "x [m]", "scale": {"domain": [0, 500], "nice": false}, "axis": {"values": [0,50,100,150,200,250,300,350,400,450,500], "tickCount": 20}}, "y": {"field": "y", "type": "quantitative", "title": "alt. [m]", "scale": {"domain": [1250, 1650], "nice": false}, "axis": {"values": [1250,1300,1350,1400,1450,1500,1550,1600,1650], "tickCount": 20}}, "color": {"field": "c", "type": "nominal", "legend": null, "scale": {"domain": ["faible","moyen","fort"], "range": ["#d9d9d9","#9b9b9b","#363636"]}}, "order": {"value": null}}},
   {"transform": [{"filter": "datum.k == 'l' && (datum.c == 'nul' || datum.c == 'nul0')"}], "mark": {"type": "line", "strokeWidth": 1.6, "color": "#2f2f2f", "strokeJoin": "round"}, "encoding": {"x": {"field": "x", "type": "quantitative", "title": "x [m]"}, "y": {"field": "y", "type": "quantitative", "title": "alt. [m]"}, "detail": {"field": "c"}, "order": {"value": null}}},
   {"transform": [{"filter": "datum.k == 't'"}], "mark": {"type": "tick", "orient": "vertical", "size": 14, "thickness": 2.5, "color": "#111", "opacity": 1}, "encoding": {"x": {"field": "x", "type": "quantitative", "title": "x [m]"}, "y": {"field": "y", "type": "quantitative", "title": "alt. [m]"}}},
   {"transform": [{"filter": "datum.k == 't'"}], "mark": {"type": "text", "text": "x", "font": "Liberation Serif", "fontStyle": "italic", "fontSize": 17, "align": "left", "baseline": "alphabetic", "color": "#222"}, "encoding": {"x": {"field": "lx", "type": "quantitative", "title": "x [m]"}, "y": {"field": "ly", "type": "quantitative", "title": "alt. [m]"}}},
   {"transform": [{"filter": "datum.k == 't'"}], "mark": {"type": "text", "font": "Liberation Sans", "fontSize": 15, "align": "left", "baseline": "alphabetic", "dx": 11, "color": "#222"}, "encoding": {"x": {"field": "lx", "type": "quantitative", "title": "x [m]"}, "y": {"field": "ly", "type": "quantitative", "title": "alt. [m]"}, "text": {"field": "t"}}},
   {"transform": [{"filter": "datum.k == 'g' && datum.c != 'nul'"}], "mark": {"type": "rule", "strokeWidth": 4.5, "strokeCap": "butt"}, "encoding": {"x": {"datum": 34}, "x2": {"datum": 80}, "y": {"field": "y", "type": "quantitative", "title": "alt. [m]"}, "color": {"field": "c", "type": "nominal", "legend": null}}},
   {"transform": [{"filter": "datum.k == 'g' && datum.c == 'nul'"}], "mark": {"type": "rule", "strokeWidth": 1.6, "color": "#2f2f2f"}, "encoding": {"x": {"datum": 34}, "x2": {"datum": 80}, "y": {"field": "y", "type": "quantitative", "title": "alt. [m]"}}},
   {"transform": [{"filter": "datum.k == 'g'"}], "mark": {"type": "text", "font": "Liberation Sans", "fontWeight": "bold", "fontSize": 12.5, "align": "left", "baseline": "middle", "dx": 1, "color": "#222"}, "encoding": {"x": {"datum": 80}, "y": {"field": "y", "type": "quantitative", "title": "alt. [m]"}, "text": {"field": "t"}}},
   {"transform": [{"filter": "datum.k == 'h'"}], "mark": {"type": "text", "font": "Liberation Sans", "fontStyle": "italic", "fontSize": 20, "align": "center", "baseline": "alphabetic", "color": "#222"}, "encoding": {"x": {"datum": 164}, "y": {"datum": 1663}, "text": {"field": "t"}}},
   {"transform": [{"filter": "datum.k == 'h'"}], "mark": {"type": "rule", "color": "#333", "strokeWidth": 1.5}, "encoding": {"x": {"field": "u1", "type": "quantitative", "title": "x [m]"}, "x2": {"field": "u2"}, "y": {"datum": 1658}}}
  ]}
]
}
